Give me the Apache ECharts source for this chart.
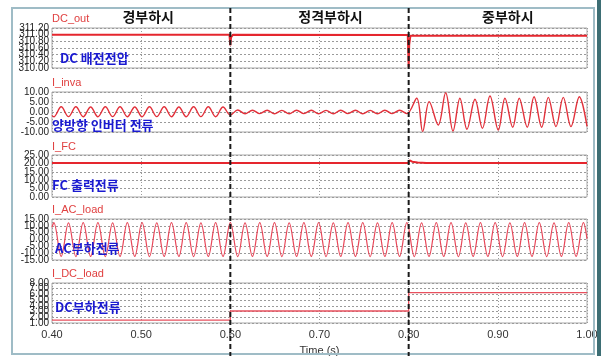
<!DOCTYPE html>
<html>
<head>
<meta charset="utf-8">
<script src="https://cdn.jsdelivr.net/npm/echarts@6/dist/echarts.min.js"></script>
<style>
html,body{margin:0;padding:0;background:#fff;}
#chart{width:601px;height:356px;}
</style>
</head>
<body>
<div id="chart"></div>
<script>
// ---- data ----
const xTicks = [0.40, 0.50, 0.60, 0.70, 0.80, 0.90, 1.00];
const eventTimes = [0.6, 0.8];
const headers = ['경부하시', '정격부하시', '중부하시'];
const signalNames = ['DC_out', 'I_inva', 'I_FC', 'I_AC_load', 'I_DC_load'];
const blueLabels = ['DC 배전전압', '양방향 인버터 전류', 'FC 출력전류', 'AC부하전류', 'DC부하전류'];

// y tick labels of each panel
const yTicks0 = [310.00, 310.20, 310.40, 310.60, 310.80, 311.00, 311.20];
const yTicks1 = [-10, -5, 0, 5, 10];
const yTicks2 = [0, 5, 10, 15, 20, 25];
const yTicks3 = [-15, -10, -5, 0, 5, 10, 15];
const yTicks4 = [1, 2, 3, 4, 5, 6, 7, 8];
const yTicks = [yTicks0, yTicks1, yTicks2, yTicks3, yTicks4];
const yStep = [0.2, 5, 5, 5, 1];

// DC bus voltage
const dcOutT = [0.400, 0.5990, 0.6000, 0.6008, 0.6030, 0.7990, 0.8000, 0.8006, 0.8020, 1.000];
const dcOutV = [311.00, 311.00, 310.68, 310.92, 311.00, 310.99, 310.02, 310.70, 310.97, 310.97];

// times of waveform extrema (peaks / troughs)
const extremaT = [0.400,
  0.4020, 0.4103, 0.4185, 0.4268, 0.4350, 0.4433, 0.4515, 0.4598, 0.4680, 0.4763, 0.4845, 0.4928,
  0.5010, 0.5093, 0.5175, 0.5258, 0.5340, 0.5423, 0.5505, 0.5588, 0.5670, 0.5753, 0.5835, 0.5918,
  0.6000, 0.6083, 0.6165, 0.6248, 0.6330, 0.6413, 0.6495, 0.6578, 0.6660, 0.6743, 0.6825, 0.6908,
  0.6990, 0.7073, 0.7155, 0.7238, 0.7320, 0.7403, 0.7485, 0.7568, 0.7650, 0.7733, 0.7815, 0.7898,
  0.7980, 0.8063, 0.8145, 0.8228, 0.8310, 0.8393, 0.8475, 0.8558, 0.8640, 0.8723, 0.8805, 0.8888,
  0.8970, 0.9053, 0.9135, 0.9218, 0.9300, 0.9383, 0.9465, 0.9548, 0.9630, 0.9713, 0.9795, 0.9878,
  0.9960, 1.000];

// AC load current at those times
const acLoad = [9.0,
  12.3,-12.4, 12.2,-12.5, 12.3,-12.4, 12.3,-12.5, 12.2,-12.4, 12.3,-12.4,
  12.3,-12.5, 12.2,-12.4, 12.3,-12.4, 12.3,-12.5, 12.2,-12.4, 12.3,-12.4,
  12.3,-12.5, 12.2,-12.4, 12.3,-12.4, 12.3,-12.5, 12.2,-12.4, 12.3,-12.4,
  12.3,-12.5, 12.2,-12.4, 12.3,-12.4, 12.3,-12.5, 12.2,-12.4, 12.3,-12.4,
  12.3,-12.5, 12.2,-12.4, 12.3,-12.4, 12.3,-12.5, 12.2,-12.4, 12.3,-12.4,
  12.3,-12.5, 12.2,-12.4, 12.3,-12.4, 12.3,-12.5, 12.2,-12.4, 12.3,-12.4,
  12.3, 0.5];

// inverter current, light + rated load (first 50 extrema times)
const invaLow = [-1.7,
  -2.4,2.6, -2.3,2.6, -2.4,2.5, -2.4,2.6, -2.3,2.6, -2.4,2.5,
  -2.4,2.6, -2.3,2.6, -2.4,2.5, -2.4,2.6, -2.3,2.6, -2.4,2.5,
  -1.5,1.0,
  -0.9,0.9, -0.8,0.9, -0.9,0.8, -0.9,0.9, -0.8,0.9, -0.9,0.8,
  -0.9,0.9, -0.8,0.9, -0.9,0.8, -0.9,0.9, -0.8,0.9,
  -0.8];
// inverter current, heavy load
const invaHighT = [0.800, 0.809, 0.8157, 0.823, 0.8332, 0.8415, 0.8497, 0.8575, 0.8654, 0.8744, 0.8827, 0.8912,
  0.9005, 0.908, 0.9167, 0.924, 0.9330, 0.9406, 0.9492, 0.9566, 0.9652, 0.9734, 0.9820, 0.9914, 1.000];
const invaHigh = [-0.3, 6.9, -9.8, 5.2, -6.5, 9.6, -9.5, 6.9, -8.6, 6.4, -8.1, 8.0,
  -9.0, 6.9, -7.6, 6.9, -7.6, 7.6, -7.6, 7.3, -7.3, 7.3, -7.3, 7.6, -7.2];

// fuel cell current
const fcT = [0.40, 0.7995, 0.8010, 0.8040, 0.8100, 0.8200, 1.00];
const fcV = [20.2, 20.2, 21.8, 21.0, 20.6, 20.3, 20.3];

// DC load current
const dcLoadT = [0.40, 0.60, 0.60, 0.80, 0.80, 1.00];
const dcLoadV = [1.5, 1.5, 3.1, 3.1, 6.3, 6.3];

// ---- layout ----
const gridTops = [28, 92, 155, 219, 283];
const gridHeights = [40, 40, 42, 41, 40];
const nameY = [19, 83, 147, 210, 274];
const blueX = [60, 52, 52, 55, 55];
const blueY = [58, 125, 185, 248, 307];

function zip(t, v) { return t.map((x, i) => [x, v[i]]); }

const invaData = zip(extremaT.slice(0, invaLow.length), invaLow).concat(zip(invaHighT, invaHigh).slice(1));

const FONT = 'Liberation Sans, Arial, sans-serif';
const KFONT = 'Noto Sans CJK KR, sans-serif';

const grids = [], xAxes = [], yAxes = [];
for (let i = 0; i < 5; i++) {
  const tk = yTicks[i];
  grids.push({ left: 52, right: 14, top: gridTops[i], height: gridHeights[i],
    show: true, borderColor: '#a9a9a9', borderWidth: 1, backgroundColor: '#fff',
    containLabel: false, outerBoundsMode: 'none' });
  xAxes.push({ type: 'value', gridIndex: i, min: xTicks[0], max: xTicks[xTicks.length - 1], interval: 0.1,
    axisLine: { show: false }, axisTick: { show: false },
    axisLabel: { show: i === 4, margin: 6, fontSize: 11, color: '#333', fontFamily: FONT,
      showMinLabel: true, showMaxLabel: true,
      formatter: v => v.toFixed(2) },
    splitLine: { show: true, lineStyle: { color: '#9a9a9a', type: [1, 2], width: 1 } },
    name: i === 4 ? 'Time (s)' : '', nameLocation: 'middle', nameGap: 22,
    nameTextStyle: { fontSize: 11, color: '#333', fontFamily: FONT } });
  yAxes.push({ type: 'value', gridIndex: i, min: tk[0], max: tk[tk.length - 1], interval: yStep[i],
    axisLine: { show: false }, axisTick: { show: false },
    axisLabel: { show: false },
    splitLine: { show: true, lineStyle: { color: '#9a9a9a', type: [2, 2], width: 1 } } });
}

const red = '#e5262e';
const series = [
  { type: 'line', xAxisIndex: 0, yAxisIndex: 0, data: zip(dcOutT, dcOutV), showSymbol: false,
    lineStyle: { color: red, width: 2 } },
  { type: 'line', xAxisIndex: 1, yAxisIndex: 1, data: invaData, showSymbol: false, smooth: 0.36,
    lineStyle: { color: '#e2303a', width: 1.4 } },
  { type: 'line', xAxisIndex: 2, yAxisIndex: 2, data: zip(fcT, fcV), showSymbol: false,
    lineStyle: { color: red, width: 2 } },
  { type: 'line', xAxisIndex: 3, yAxisIndex: 3, data: zip(extremaT, acLoad), showSymbol: false, smooth: 0.36,
    lineStyle: { color: '#e8485a', width: 1.2 } },
  { type: 'line', xAxisIndex: 4, yAxisIndex: 4, data: zip(dcLoadT, dcLoadV), showSymbol: false,
    lineStyle: { color: '#e8505e', width: 1.3 } }
];

const chart = echarts.init(document.getElementById('chart'), null, { renderer: 'canvas' });
chart.setOption({
  animation: false,
  backgroundColor: '#fff',
  grid: grids, xAxis: xAxes, yAxis: yAxes, series: series
});

// overlay graphics positioned with the axis scales
const xEv = eventTimes.map(t => chart.convertToPixel({ xAxisIndex: 0 }, t));
const xStart = chart.convertToPixel({ xAxisIndex: 0 }, xTicks[0]);
const xEnd = chart.convertToPixel({ xAxisIndex: 0 }, xTicks[xTicks.length - 1]);
const headerX = [(xStart + xEv[0]) / 2 + 7, (xEv[0] + xEv[1]) / 2 + 11, (xEv[1] + xEnd) / 2 + 10];

const g = [];
g.push({ type: 'rect', shape: { x: 12, y: 8, width: 582, height: 346 },
  style: { fill: 'none', stroke: '#9fbcc6', lineWidth: 2 }, z: 1 });
g.push({ type: 'rect', shape: { x: 597, y: 0, width: 4, height: 356 },
  style: { fill: '#3d6e74' }, z: 1 });
// all y tick labels (overlapping, as in the reference)
yTicks.forEach((tk, i) => tk.forEach(v => {
  const py = chart.convertToPixel({ yAxisIndex: i }, v);
  g.push({ type: 'text', x: xStart - 3, y: py,
    style: { text: v.toFixed(2), fontSize: 10, fontFamily: FONT, fill: '#222',
      align: 'right', verticalAlign: 'middle' }, z: 40 });
}));
headers.forEach((h, i) => g.push({ type: 'text', x: headerX[i], y: 17,
  style: { text: h, fontSize: 14, fontWeight: 'bold', fontFamily: KFONT, fill: '#111',
    align: 'center', verticalAlign: 'middle' }, z: 50 }));
signalNames.forEach((s, i) => g.push({ type: 'text', x: 52, y: nameY[i],
  style: { text: s, fontSize: 11, fontFamily: FONT, fill: '#e04040',
    align: 'left', verticalAlign: 'middle' }, z: 50 }));
blueLabels.forEach((s, i) => g.push({ type: 'text', x: blueX[i], y: blueY[i],
  style: { text: s, fontSize: 13, fontWeight: 'bold', fontFamily: KFONT, fill: '#1a1ad0',
    align: 'left', verticalAlign: 'middle' }, z: 60 }));
xEv.forEach(x => g.push({ type: 'line', shape: { x1: x, y1: 8, x2: x, y2: 356 },
  style: { stroke: '#1a1a1a', lineWidth: 2, lineDash: [5, 3] }, z: 70 }));

chart.setOption({ graphic: g });
</script>
</body>
</html>
